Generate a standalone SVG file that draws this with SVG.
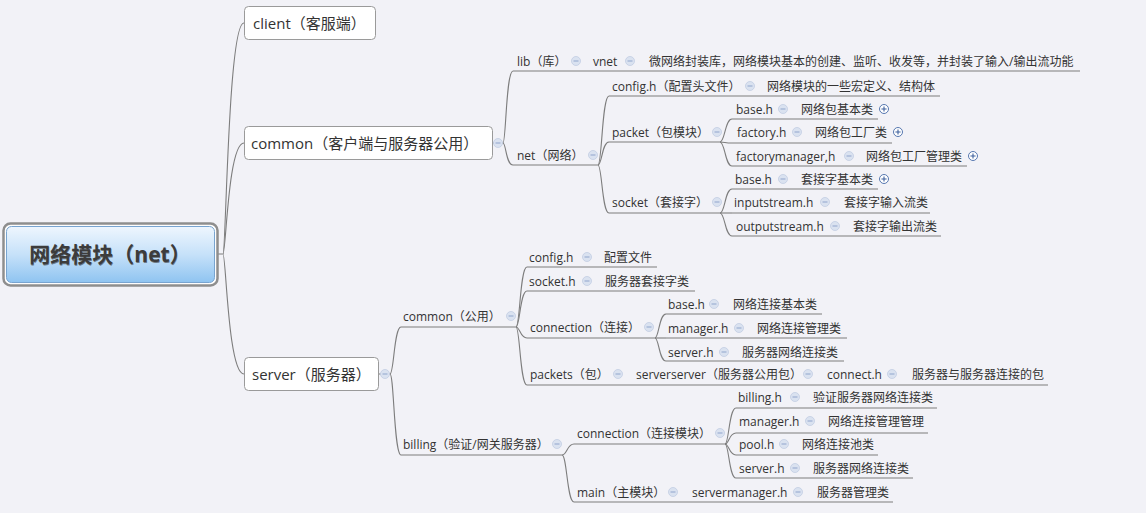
<svg xmlns="http://www.w3.org/2000/svg" xmlns:xlink="http://www.w3.org/1999/xlink" width="1146" height="513" viewBox="0 0 1146 513">
<style>
.bg{fill:#f2f2f7}
text{font-family:"Open Sans","Noto Sans CJK SC",sans-serif;fill:#333;dominant-baseline:central}
.t1{font-size:15px}
.t2{font-size:12px}
.rt{font-size:21px;font-weight:bold;fill:#3c3c3c}
.ul{stroke:#7d7d7d;stroke-width:1.1;fill:none}
.cn path{stroke:#7d7d7d;stroke-width:1.1;fill:none}
.box{fill:#fff;stroke:#9a9a9a;stroke-width:1}
</style>
<defs>
<linearGradient id="rg" x1="0" y1="0" x2="0" y2="1">
<stop offset="0" stop-color="#eef6fe"/>
<stop offset="0.5" stop-color="#c6e1f9"/>
<stop offset="1" stop-color="#8fc4f1"/>
</linearGradient>
<g id="c"><circle r="4.5" fill="#dae2f0" stroke="#c2cde2" stroke-width="0.8"/><line x1="-2.5" y1="0" x2="2.5" y2="0" stroke="#9db0d2" stroke-width="1.2"/></g>
<g id="e"><circle r="4.5" fill="#fff" stroke="#5677b0" stroke-width="1"/><path d="M-2.6 0H2.6M0 -2.6V2.6" stroke="#3f619e" stroke-width="1.1"/></g>
</defs>
<rect class="bg" x="0" y="0" width="1146" height="513"/>

<g id="connectors" class="cn">
<path d="M218,254 H223 C226,254 228,23 244,23"/>
<path d="M223,254 C226,254 228,143 244,143"/>
<path d="M223,254 C226,254 228,374 244,374"/>
<path d="M492,143 H503 C506,143 506,71 513,71"/>
<path d="M503,143 C506,143 506,165 513,165"/>
<path d="M598,165 C602,165 602,96 609,96"/>
<path d="M598,165 C602,165 602,142 609,142"/>
<path d="M598,165 C602,165 602,213 609,213"/>
<path d="M720,142 C725,142 725,119 732,119"/>
<path d="M720,142 C725,142 725,143 732,143"/>
<path d="M720,142 C725,142 725,166 732,166"/>
<path d="M720,213 C725,213 725,189 732,189"/>
<path d="M720,213 H732"/>
<path d="M720,213 C725,213 725,236 732,236"/>
<path d="M379,374 H390 C394,374 394,327 401,327"/>
<path d="M390,374 C394,374 394,455 401,455"/>
<path d="M516,327 C520,327 520,267 527,267"/>
<path d="M516,327 C520,327 520,291 527,291"/>
<path d="M516,327 C520,327 520,338 527,338"/>
<path d="M516,327 C520,327 520,385 527,385"/>
<path d="M655,338 C659,338 659,314 666,314"/>
<path d="M655,338 H666"/>
<path d="M655,338 C659,338 659,361 666,361"/>
<path d="M562,455 C567,455 567,444 574,444"/>
<path d="M562,455 C567,455 567,502 574,502"/>
<path d="M725,444 C729,444 729,408 736,408"/>
<path d="M725,444 C729,444 729,433 736,433"/>
<path d="M725,444 C729,444 729,455 736,455"/>
<path d="M725,444 C729,444 729,478 736,478"/>
</g>

<g id="root">
<rect x="3.5" y="223.5" width="214" height="62" rx="7" fill="#fdfdfd" stroke="#8e8e8e" stroke-width="2.5"/>
<rect x="6.5" y="226.5" width="208" height="56" rx="5" fill="url(#rg)" stroke="#78a4d0" stroke-width="1"/>
<text class="rt" x="110.5" y="255" text-anchor="middle" fill="#fff" opacity="0.6">网络模块（net）</text>
<text class="rt" x="110" y="254" text-anchor="middle">网络模块（net）</text>
</g>

<g id="client"><rect class="box" x="244.5" y="6.5" width="131" height="33" rx="4"/><text class="t1" x="253" y="23">client（客服端）</text></g>
<g id="common"><rect class="box" x="244.5" y="126.5" width="248" height="33" rx="4"/><text class="t1" x="251" y="143">common（客户端与服务器公用）</text><use xlink:href="#c" x="498" y="143"/></g>
<g id="server"><rect class="box" x="244.5" y="357.5" width="134" height="33" rx="4"/><text class="t1" x="252" y="374">server（服务器）</text><use xlink:href="#c" x="385" y="374"/></g>

<g id="lib"><line class="ul" x1="513" y1="71" x2="585" y2="71"/><text class="t2" x="517" y="61">lib（库）</text><use xlink:href="#c" x="576" y="61"/></g>
<g id="vnet"><line class="ul" x1="585" y1="71" x2="640" y2="71"/><text class="t2" x="593" y="61">vnet</text><use xlink:href="#c" x="630" y="61"/></g>
<g id="vnet-desc"><line class="ul" x1="640" y1="71" x2="1080" y2="71"/><text class="t2" x="649" y="61">微网络封装库，网络模块基本的创建、监听、收发等，并封装了输入/输出流功能</text></g>
<g id="net"><line class="ul" x1="513" y1="165" x2="598" y2="165"/><text class="t2" x="517" y="155">net（网络）</text><use xlink:href="#c" x="593" y="155"/></g>

<g id="config-h"><line class="ul" x1="609" y1="96" x2="758" y2="96"/><text class="t2" x="612" y="86">config.h（配置头文件）</text><use xlink:href="#c" x="750" y="86"/></g>
<g id="config-h-desc"><line class="ul" x1="758" y1="96" x2="940" y2="96"/><text class="t2" x="767" y="86">网络模块的一些宏定义、结构体</text></g>
<g id="packet"><line class="ul" x1="609" y1="142" x2="720" y2="142"/><text class="t2" x="612" y="132">packet（包模块）</text><use xlink:href="#c" x="717" y="132"/></g>
<g id="socket"><line class="ul" x1="609" y1="213" x2="720" y2="213"/><text class="t2" x="612" y="202">socket（套接字）</text><use xlink:href="#c" x="717" y="202"/></g>

<g id="packet-base"><line class="ul" x1="732" y1="119" x2="791" y2="119"/><text class="t2" x="736" y="109">base.h</text><use xlink:href="#c" x="783" y="109"/></g>
<g id="packet-base-desc"><line class="ul" x1="791" y1="119" x2="878" y2="119"/><text class="t2" x="801" y="109">网络包基本类</text><use xlink:href="#e" x="884" y="109"/></g>
<g id="packet-factory"><line class="ul" x1="732" y1="143" x2="805" y2="143"/><text class="t2" x="737" y="132">factory.h</text><use xlink:href="#c" x="797" y="132"/></g>
<g id="packet-factory-desc"><line class="ul" x1="805" y1="143" x2="892" y2="143"/><text class="t2" x="815" y="132">网络包工厂类</text><use xlink:href="#e" x="898" y="132"/></g>
<g id="packet-fm"><line class="ul" x1="732" y1="166" x2="857" y2="166"/><text class="t2" x="736" y="156">factorymanager,h</text><use xlink:href="#c" x="849" y="156"/></g>
<g id="packet-fm-desc"><line class="ul" x1="857" y1="166" x2="967" y2="166"/><text class="t2" x="866" y="156">网络包工厂管理类</text><use xlink:href="#e" x="973" y="156"/></g>

<g id="socket-base"><line class="ul" x1="732" y1="189" x2="791" y2="189"/><text class="t2" x="735" y="179">base.h</text><use xlink:href="#c" x="783" y="179"/></g>
<g id="socket-base-desc"><line class="ul" x1="791" y1="189" x2="878" y2="189"/><text class="t2" x="801" y="179">套接字基本类</text><use xlink:href="#e" x="884" y="179"/></g>
<g id="socket-input"><line class="ul" x1="732" y1="213" x2="833" y2="213"/><text class="t2" x="734" y="202">inputstream.h</text><use xlink:href="#c" x="825" y="202"/></g>
<g id="socket-input-desc"><line class="ul" x1="833" y1="213" x2="930" y2="213"/><text class="t2" x="844" y="202">套接字输入流类</text></g>
<g id="socket-output"><line class="ul" x1="732" y1="236" x2="843" y2="236"/><text class="t2" x="736" y="226">outputstream.h</text><use xlink:href="#c" x="835" y="226"/></g>
<g id="socket-output-desc"><line class="ul" x1="843" y1="236" x2="941" y2="236"/><text class="t2" x="853" y="226">套接字输出流类</text></g>

<g id="srv-common"><line class="ul" x1="401" y1="327" x2="516" y2="327"/><text class="t2" x="403" y="316">common（公用）</text><use xlink:href="#c" x="511" y="316"/></g>
<g id="srv-config"><line class="ul" x1="527" y1="267" x2="595" y2="267"/><text class="t2" x="529" y="257">config.h</text><use xlink:href="#c" x="587" y="257"/></g>
<g id="srv-config-desc"><line class="ul" x1="595" y1="267" x2="657" y2="267"/><text class="t2" x="604" y="257">配置文件</text></g>
<g id="srv-socket"><line class="ul" x1="527" y1="291" x2="595" y2="291"/><text class="t2" x="529" y="281">socket.h</text><use xlink:href="#c" x="587" y="281"/></g>
<g id="srv-socket-desc"><line class="ul" x1="595" y1="291" x2="695" y2="291"/><text class="t2" x="605" y="281">服务器套接字类</text></g>
<g id="srv-connection"><line class="ul" x1="527" y1="338" x2="655" y2="338"/><text class="t2" x="530" y="327">connection（连接）</text><use xlink:href="#c" x="649" y="327"/></g>
<g id="conn-base"><line class="ul" x1="666" y1="314" x2="722" y2="314"/><text class="t2" x="668" y="304">base.h</text><use xlink:href="#c" x="714" y="304"/></g>
<g id="conn-base-desc"><line class="ul" x1="722" y1="314" x2="822" y2="314"/><text class="t2" x="733" y="304">网络连接基本类</text></g>
<g id="conn-manager"><line class="ul" x1="666" y1="338" x2="747" y2="338"/><text class="t2" x="668" y="328">manager.h</text><use xlink:href="#c" x="739" y="328"/></g>
<g id="conn-manager-desc"><line class="ul" x1="747" y1="338" x2="847" y2="338"/><text class="t2" x="757" y="328">网络连接管理类</text></g>
<g id="conn-server"><line class="ul" x1="666" y1="361" x2="732" y2="361"/><text class="t2" x="668" y="352">server.h</text><use xlink:href="#c" x="724" y="352"/></g>
<g id="conn-server-desc"><line class="ul" x1="732" y1="361" x2="844" y2="361"/><text class="t2" x="742" y="352">服务器网络连接类</text></g>
<g id="srv-packets"><line class="ul" x1="527" y1="385" x2="626" y2="385"/><text class="t2" x="530" y="374">packets（包）</text><use xlink:href="#c" x="618" y="374"/></g>
<g id="serverserver"><line class="ul" x1="626" y1="385" x2="816" y2="385"/><text class="t2" x="636" y="374">serverserver（服务器公用包）</text><use xlink:href="#c" x="808" y="374"/></g>
<g id="connect-h"><line class="ul" x1="816" y1="385" x2="900" y2="385"/><text class="t2" x="827" y="374">connect.h</text><use xlink:href="#c" x="892" y="374"/></g>
<g id="connect-h-desc"><line class="ul" x1="900" y1="385" x2="1048" y2="385"/><text class="t2" x="912" y="374">服务器与服务器连接的包</text></g>

<g id="billing"><line class="ul" x1="401" y1="455" x2="562" y2="455"/><text class="t2" x="403" y="444">billing（验证/网关服务器）</text><use xlink:href="#c" x="557" y="444"/></g>
<g id="bill-connection"><line class="ul" x1="574" y1="444" x2="725" y2="444"/><text class="t2" x="577" y="433">connection（连接模块）</text><use xlink:href="#c" x="720" y="433"/></g>
<g id="bc-billing"><line class="ul" x1="736" y1="408" x2="803" y2="408"/><text class="t2" x="738" y="397">billing.h</text><use xlink:href="#c" x="795" y="397"/></g>
<g id="bc-billing-desc"><line class="ul" x1="803" y1="408" x2="937" y2="408"/><text class="t2" x="813" y="397">验证服务器网络连接类</text></g>
<g id="bc-manager"><line class="ul" x1="736" y1="433" x2="818" y2="433"/><text class="t2" x="739" y="421">manager.h</text><use xlink:href="#c" x="810" y="421"/></g>
<g id="bc-manager-desc"><line class="ul" x1="818" y1="433" x2="928" y2="433"/><text class="t2" x="828" y="421">网络连接管理管理</text></g>
<g id="bc-pool"><line class="ul" x1="736" y1="455" x2="792" y2="455"/><text class="t2" x="739" y="444">pool.h</text><use xlink:href="#c" x="784" y="444"/></g>
<g id="bc-pool-desc"><line class="ul" x1="792" y1="455" x2="878" y2="455"/><text class="t2" x="802" y="444">网络连接池类</text></g>
<g id="bc-server"><line class="ul" x1="736" y1="478" x2="803" y2="478"/><text class="t2" x="739" y="468">server.h</text><use xlink:href="#c" x="795" y="468"/></g>
<g id="bc-server-desc"><line class="ul" x1="803" y1="478" x2="913" y2="478"/><text class="t2" x="813" y="468">服务器网络连接类</text></g>
<g id="bill-main"><line class="ul" x1="574" y1="502" x2="681" y2="502"/><text class="t2" x="577" y="492">main（主模块）</text><use xlink:href="#c" x="673" y="492"/></g>
<g id="servermanager"><line class="ul" x1="681" y1="502" x2="806" y2="502"/><text class="t2" x="692" y="492">servermanager.h</text><use xlink:href="#c" x="798" y="492"/></g>
<g id="servermanager-desc"><line class="ul" x1="806" y1="502" x2="893" y2="502"/><text class="t2" x="817" y="492">服务器管理类</text></g>
</svg>
